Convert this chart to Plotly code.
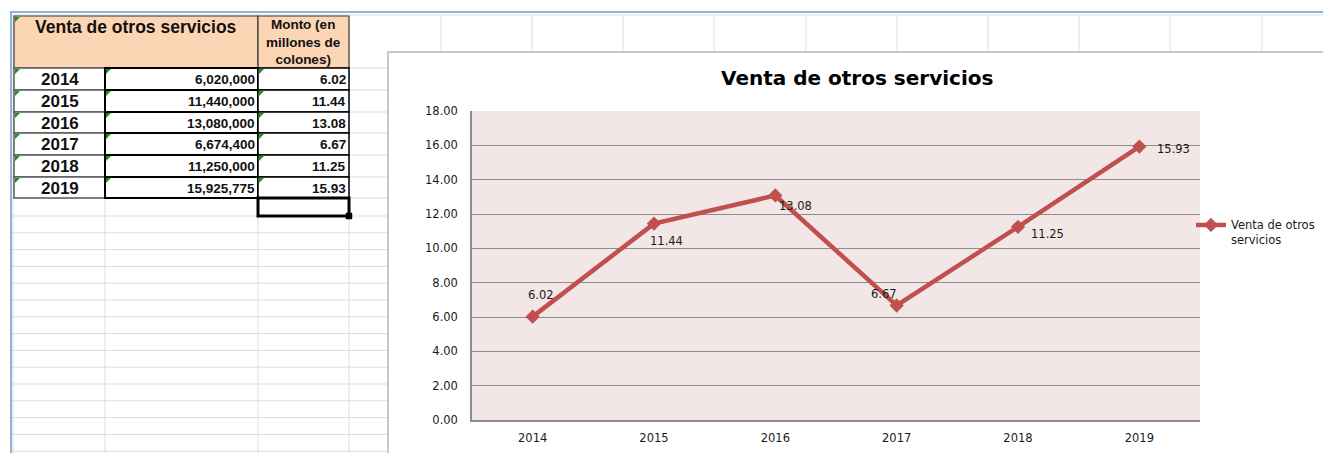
import plotly.graph_objects as go

# ---------------- data ----------------
years = ["2014", "2015", "2016", "2017", "2018", "2019"]
montos = [6020000, 11440000, 13080000, 6674400, 11250000, 15925775]
montos_millones = [6.02, 11.44, 13.08, 6.67, 11.25, 15.93]
serie_nombre = "Venta de otros servicios"
header_monto = "Monto (en<br>millones de<br>colones)"
y_ticks = [0, 2, 4, 6, 8, 10, 12, 14, 16, 18]

# ---------------- layout helpers (page pixel -> paper) ----------------
W, H = 1323, 453
OFF = 0  # body margin removed by post_script
def X(px):
    return (px - OFF) / W
def Y(py):
    return 1 - (py - OFF) / H

shapes = []
annotations = []

def add_line(x0, y0, x1, y1, color, width):
    shapes.append(dict(type="line", xref="paper", yref="paper",
                       x0=X(x0), y0=Y(y0), x1=X(x1), y1=Y(y1),
                       line=dict(color=color, width=width), layer="below"))

def add_rect(x0, y0, x1, y1, fill, color, width):
    shapes.append(dict(type="rect", xref="paper", yref="paper",
                       x0=X(x0), y0=Y(y0), x1=X(x1), y1=Y(y1),
                       fillcolor=fill, line=dict(color=color, width=width),
                       layer="below"))

def add_tri(x, y, s=5):
    path = f"M {X(x)},{Y(y)} L {X(x+s)},{Y(y)} L {X(x)},{Y(y+s)} Z"
    shapes.append(dict(type="path", xref="paper", yref="paper", path=path,
                       fillcolor="#1f8f1f", line=dict(width=0), layer="below"))

def add_text(px, py, text, font, xanchor="center", yanchor="middle"):
    annotations.append(dict(xref="paper", yref="paper", x=X(px), y=Y(py),
                            xanchor=xanchor, yanchor=yanchor, text=text,
                            showarrow=False, font=font))

# ---------------- spreadsheet grid ----------------
grid_color = "#dcdcdc"
col_x = [13, 105, 258, 349, 441, 532, 623, 714, 806, 897, 988, 1079, 1170, 1262]
row_tops = [68, 90, 112, 133, 155, 177, 198]
row_y = [15] + row_tops + [216 + k * 16.8 for k in range(15)]
for cx in col_x:
    add_line(cx, 15, cx, H + 20, grid_color, 1)
for ry in row_y:
    add_line(11, ry, W + 20, ry, grid_color, 1)
# blue sheet edges
add_line(10, 12, W + 20, 12, "#6f98d2", 1.5)
add_line(11, 12, 11, H + 20, "#6f98d2", 1.5)

# ---------------- table ----------------
tfont = "Liberation Sans, Arial, sans-serif"
big = dict(family=tfont, size=17, color="#111", weight="bold")
head = dict(family=tfont, size=17.5, color="#111", weight="bold")
small = dict(family=tfont, size=13.5, color="#111", weight="bold")
add_rect(14, 16, 258, 68, "#fcd5b4", "#3a3a3a", 1.2)
add_rect(258, 16, 349, 68, "#fcd5b4", "#3a3a3a", 1.2)
add_tri(15, 17)
add_text(136, 27, serie_nombre, head)
add_text(303.5, 42, header_monto, small)

for i, (yr, m, mm) in enumerate(zip(years, montos, montos_millones)):
    y0, y1 = row_tops[i], row_tops[i + 1]
    add_rect(14, y0, 105, y1, "white", "#5a5a5a", 1.5)
    add_rect(105, y0, 258, y1, "white", "#000000", 2)
    add_rect(258, y0, 349, y1, "white", "#000000", 1.5)
    add_tri(15, y0 + 1)
    add_tri(106, y0 + 1)
    add_tri(259, y0 + 1)
    ym = (y0 + y1) / 2 + 0.5
    add_text(59.5, ym, yr, big)
    add_text(257, ym, f"{m:,}", small, xanchor="right")
    add_text(348, ym, f"{mm:.2f}", small, xanchor="right")

# selected cell + fill handle
add_rect(258, 198, 349, 216, "rgba(0,0,0,0)", "#000000", 3)
add_rect(346, 213, 352, 219, "#000000", "#000000", 0.5)

# ---------------- chart frame ----------------
add_rect(388, 52, W + 30, H + 30, "white", "#b8b8b8", 1.5)
add_rect(472, 111, 1200, 420, "#f2e7e6", "rgba(0,0,0,0)", 0)

cfont = "DejaVu Sans, Verdana, sans-serif"
add_text(856.5, 78, serie_nombre, dict(family=cfont, size=20, color="#000", weight="bold"))

# data labels (offsets in pixels)
label_dx = [8, 12, 20, -13, 29, 34]
label_dy = [22, -17, -11, 12, -7, -2]
for i, (v, dx, dy) in enumerate(zip(montos_millones, label_dx, label_dy)):
    annotations.append(dict(xref="x", yref="y", x=i, y=v, text=f"{v:.2f}",
                            xanchor="center", yanchor="middle",
                            showarrow=False, xshift=dx, yshift=dy,
                            font=dict(family=cfont, size=11.5, color="#1a1a1a")))

fig = go.Figure()
fig.add_trace(go.Scatter(
    x=years, y=montos_millones, mode="lines+markers", name="Venta de otros<br>servicios",
    line=dict(color="#c0504d", width=4.5),
    marker=dict(symbol="diamond", size=11, color="#c0504d"),
))

fig.update_layout(
    width=W, height=H, margin=dict(l=0, r=0, t=0, b=0, autoexpand=False),
    paper_bgcolor="white", plot_bgcolor="rgba(0,0,0,0)",
    shapes=shapes, annotations=annotations,
    showlegend=True,
    legend=dict(x=X(1191), xanchor="left", y=Y(211), yanchor="top",
                valign="top", bgcolor="rgba(0,0,0,0)", borderwidth=0,
                font=dict(family=cfont, size=11.5, color="#1a1a1a"),
                tracegroupgap=0, itemwidth=30),
    xaxis=dict(domain=[X(472), X(1200)], type="category", range=[-0.5, 5.5],
               showgrid=False, showline=True, linecolor="#8c8c8c", linewidth=1.5,
               ticks="", ticklabelstandoff=6, zeroline=False,
               tickfont=dict(family=cfont, size=11.5, color="#1a1a1a")),
    yaxis=dict(domain=[Y(420), Y(111)], range=[0, 18], tickvals=y_ticks,
               tickformat=".2f", showgrid=True, gridcolor="#8c8c8c", gridwidth=1,
               showline=True, linecolor="#8c8c8c", linewidth=1.5, zeroline=False,
               ticks="", ticklabelstandoff=10,
               tickfont=dict(family=cfont, size=11.5, color="#1a1a1a")),
)

fig.write_html(
    "out.html",
    config={"displayModeBar": False},
    post_script="document.body.style.margin='0';document.body.style.overflow='hidden';",
)
